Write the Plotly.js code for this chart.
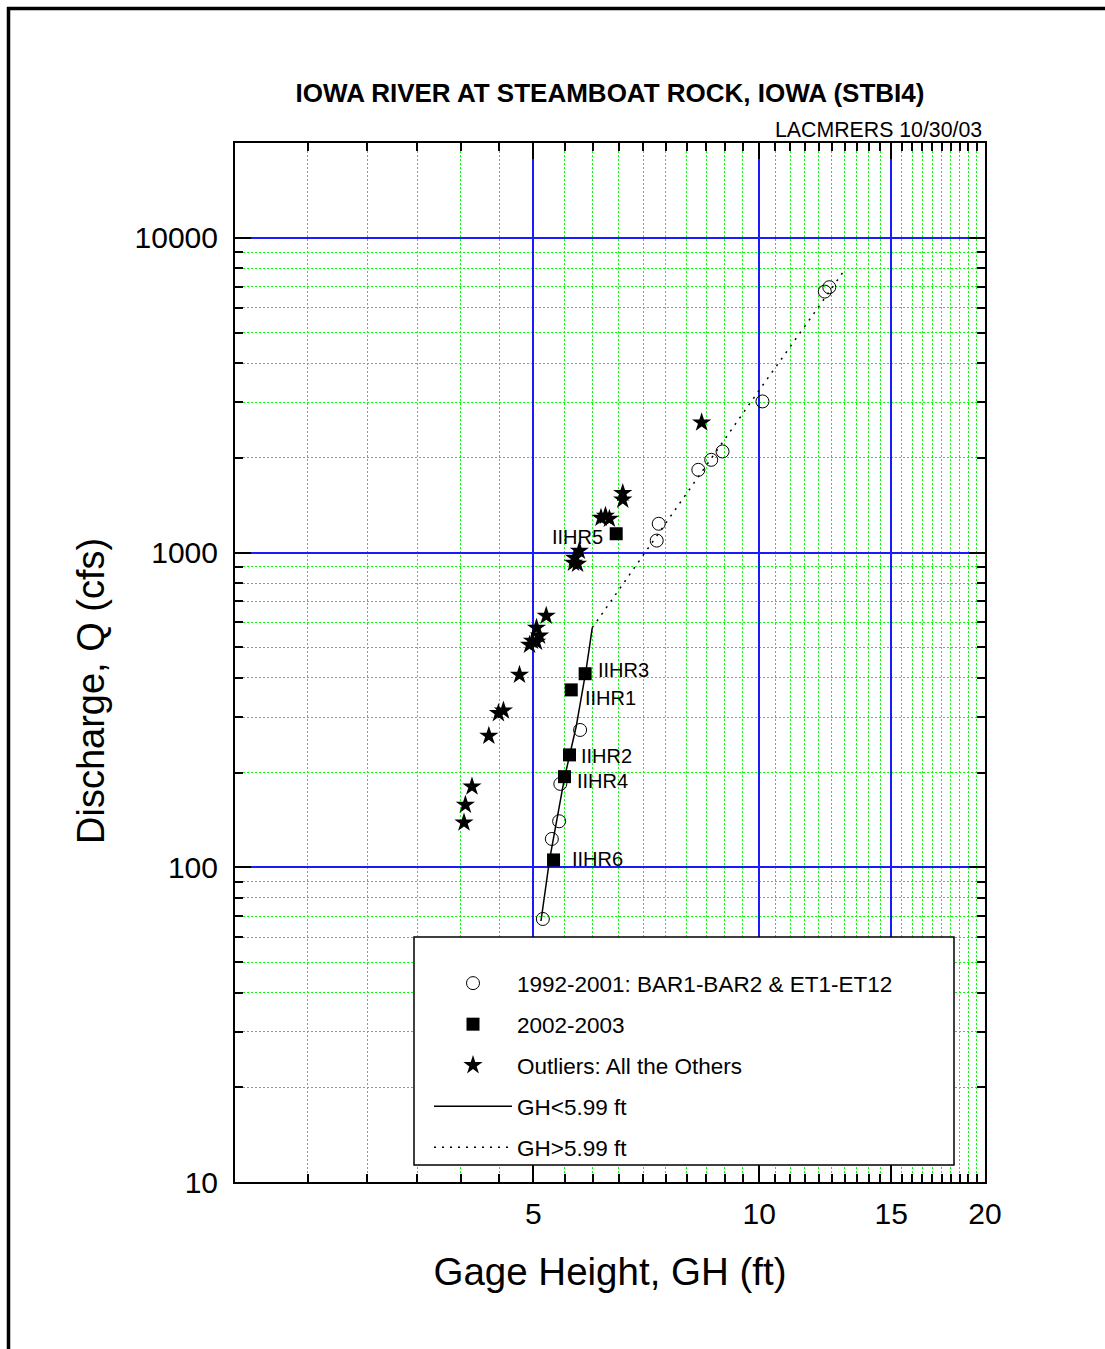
<!DOCTYPE html>
<html>
<head>
<meta charset="utf-8">
<script src="https://cdn.plot.ly/plotly-3.0.1.min.js"></script>
<style>
html,body{margin:0;padding:0;background:#fff;}
#chart{width:1105px;height:1349px;}
</style>
</head>
<body>
<div id="chart"></div>
<script>
// ---- data ----
const circleGH = [12.23, 12.40, 10.10, 8.935, 8.63, 8.295, 7.345, 7.30, 5.77, 5.43, 5.41, 5.29, 5.146];
const circleQ  = [6745, 6964, 3020, 2094, 1970, 1831, 1234, 1091, 273, 184, 140, 123, 68.5];

const squareGH = [6.446, 5.86, 5.615, 5.585, 5.50, 5.318];
const squareQ  = [1147, 412, 366, 227.5, 194, 105.5];
const squareLabels = ["IIHR5", "IIHR3", "IIHR1", "IIHR2", "IIHR4", "IIHR6"];

const starGH = [8.38, 6.577, 6.577, 6.152, 6.237, 6.313, 5.757, 5.671, 5.725, 5.654,
                5.20, 5.047, 5.094, 4.985, 4.94, 5.047, 4.79, 4.56, 4.49, 4.36, 4.14, 4.057, 4.04];
const starQ  = [2588, 1544, 1471, 1289, 1308, 1279, 1012, 962, 920, 927,
                629, 576, 544, 524, 509, 520, 408.6, 314.7, 308.7, 261.5, 180.4, 157.8, 138.7];

const lowGH = [5.117, 5.253, 5.50, 5.701, 5.877, 5.99];
const lowQ  = [67.5, 105.5, 192.3, 280, 423.8, 577];

const highGH = [5.99, 7.0, 8.5, 10.0, 11.5, 13.05];
const highQ  = [577, 980, 1880, 3280, 5230, 8009];

const xTickVals = [5, 10, 15, 20];
const xTickText = ["5", "10", "15", "20"];
const yTickVals = [10, 100, 1000, 10000];
const yTickText = ["10", "100", "1000", "10000"];

// ---- styling / layout helpers ----
const FONT = "Arial, 'Liberation Sans', Helvetica, sans-serif";
const labelOffsets = [[-11, -3, 'right'], [11, 4, 'left'], [12, -8, 'left'], [10, -1, 'left'], [10, -4, 'left'], [16, 1, 'left']];

// minor tick positions (0.5 ft steps on x, 1-9 per decade on y)
const xMinor = [];
for (let v = 2.5; v < 20; v += 0.5) { if (![5, 10, 15].includes(v)) xMinor.push(v); }
const yMinor = [];
[10, 100, 1000].forEach(d => { for (let k = 2; k <= 9; k++) yMinor.push(k * d); });

const traces = [
  {x: lowGH, y: lowQ, mode: 'lines', name: 'GH<5.99 ft', legendgroup: 'd', legendrank: 4,
   line: {color: 'black', width: 1.5}},
  {x: highGH, y: highQ, mode: 'lines', name: 'GH>5.99 ft', legendgroup: 'e', legendrank: 5,
   line: {color: 'black', width: 1.5, dash: '2px,6px'}},
  {x: circleGH, y: circleQ, mode: 'markers', name: '1992-2001: BAR1-BAR2 & ET1-ET12', legendgroup: 'a', legendrank: 1,
   marker: {symbol: 'circle-open', size: 13, color: 'black', line: {width: 1, color: 'black'}}},
  {x: squareGH, y: squareQ, mode: 'markers', name: '2002-2003', legendgroup: 'b', legendrank: 2,
   marker: {symbol: 'square', size: 13, color: 'black'}},
  {x: starGH, y: starQ, mode: 'markers', name: 'Outliers: All the Others', legendgroup: 'c', legendrank: 3,
   marker: {symbol: 'star', size: 14.5, color: 'black', line: {width: 0}}}
];

const L = 235, R = 985, T = 143, B = 1182;
const px2paperX = p => (p - L) / (R - L);
const px2paperY = p => (B - p) / (B - T);

const annotations = squareLabels.map((t, i) => ({
  x: Math.log10(squareGH[i]), y: Math.log10(squareQ[i]), xref: 'x', yref: 'y',
  text: t, showarrow: false, xanchor: labelOffsets[i][2], yanchor: 'middle',
  xshift: labelOffsets[i][0], yshift: labelOffsets[i][1],
  font: {family: FONT, size: 20, color: 'black'}
}));
annotations.push({
  text: 'LACMRERS 10/30/03', xref: 'paper', yref: 'paper', x: 1, y: 1.0125,
  xanchor: 'right', yanchor: 'middle', xshift: -1, showarrow: false,
  font: {family: FONT, size: 21.3, color: 'black'}
});
// y-axis title (placed like the reference, slightly below the plot centre)
annotations.push({
  text: 'Discharge, Q (cfs)', xref: 'paper', yref: 'paper', x: px2paperX(91), y: px2paperY(691),
  xanchor: 'center', yanchor: 'middle', textangle: -90, showarrow: false,
  font: {family: FONT, size: 38, color: 'black'}
});

const axisCommon = {
  type: 'log', showline: true, linecolor: 'black', linewidth: 2, mirror: 'allticks',
  ticks: 'inside', ticklen: 16, tickwidth: 2, tickcolor: 'black',
  showgrid: true, gridcolor: '#1a1aff', gridwidth: 2, zeroline: false,
  tickmode: 'array', tickfont: {family: FONT, size: 30, color: 'black'}
};

const layout = {
  width: 1105, height: 1349,
  paper_bgcolor: 'white', plot_bgcolor: 'white',
  margin: {l: L, r: 1105 - R, t: T, b: 1349 - B},
  font: {family: FONT, color: 'black'},
  title: {text: '<b>IOWA RIVER AT STEAMBOAT ROCK, IOWA (STBI4)</b>', xref: 'paper', x: 0.5, xanchor: 'center',
          yref: 'container', y: (1349 - 93) / 1349, yanchor: 'middle',
          font: {family: FONT, size: 26, color: 'black'}},
  xaxis: Object.assign({}, axisCommon, {
    range: [Math.log10(2), Math.log10(20)],
    tickvals: xTickVals, ticktext: xTickText, ticklabelstandoff: 4,
    title: {text: 'Gage Height, GH (ft)', font: {family: FONT, size: 38.5, color: 'black'}, standoff: 29},
    minor: {tickmode: 'array', tickvals: xMinor, ticks: 'inside', ticklen: 8, tickwidth: 2, tickcolor: 'black',
            showgrid: true, gridcolor: '#00ff00', gridwidth: 1, griddash: '2px,2px'}
  }),
  yaxis: Object.assign({}, axisCommon, {
    range: [1, Math.log10(20000)],
    tickvals: yTickVals, ticktext: yTickText, ticklabelstandoff: 9,
    minor: {tickmode: 'array', tickvals: yMinor, ticks: 'inside', ticklen: 8, tickwidth: 2, tickcolor: 'black',
            showgrid: true, gridcolor: '#00ff00', gridwidth: 1, griddash: '2px,2px'}
  }),
  showlegend: true,
  legend: {
    x: px2paperX(429), y: px2paperY(962), xanchor: 'left', yanchor: 'top',
    bgcolor: 'rgba(0,0,0,0)', borderwidth: 0, itemwidth: 78, tracegroupgap: 8.8,
    font: {family: FONT, size: 22.5, color: 'black'}, itemclick: false
  },
  shapes: [
    {type: 'rect', xref: 'paper', yref: 'paper', layer: 'above',
     x0: px2paperX(414), x1: px2paperX(954), y0: px2paperY(1165), y1: px2paperY(937),
     fillcolor: 'white', line: {color: 'black', width: 1.5}},
    // page frame: top and left edges
    {type: 'line', xref: 'paper', yref: 'paper', layer: 'above',
     x0: px2paperX(7), x1: px2paperX(1110), y0: px2paperY(8.5), y1: px2paperY(8.5), line: {color: 'black', width: 3.5}},
    {type: 'line', xref: 'paper', yref: 'paper', layer: 'above',
     x0: px2paperX(8.5), x1: px2paperX(8.5), y0: px2paperY(7), y1: px2paperY(1360), line: {color: 'black', width: 3.5}}
  ],
  annotations: annotations
};

Plotly.newPlot('chart', traces, layout, {staticPlot: true, displayModeBar: false});
</script>
</body>
</html>
